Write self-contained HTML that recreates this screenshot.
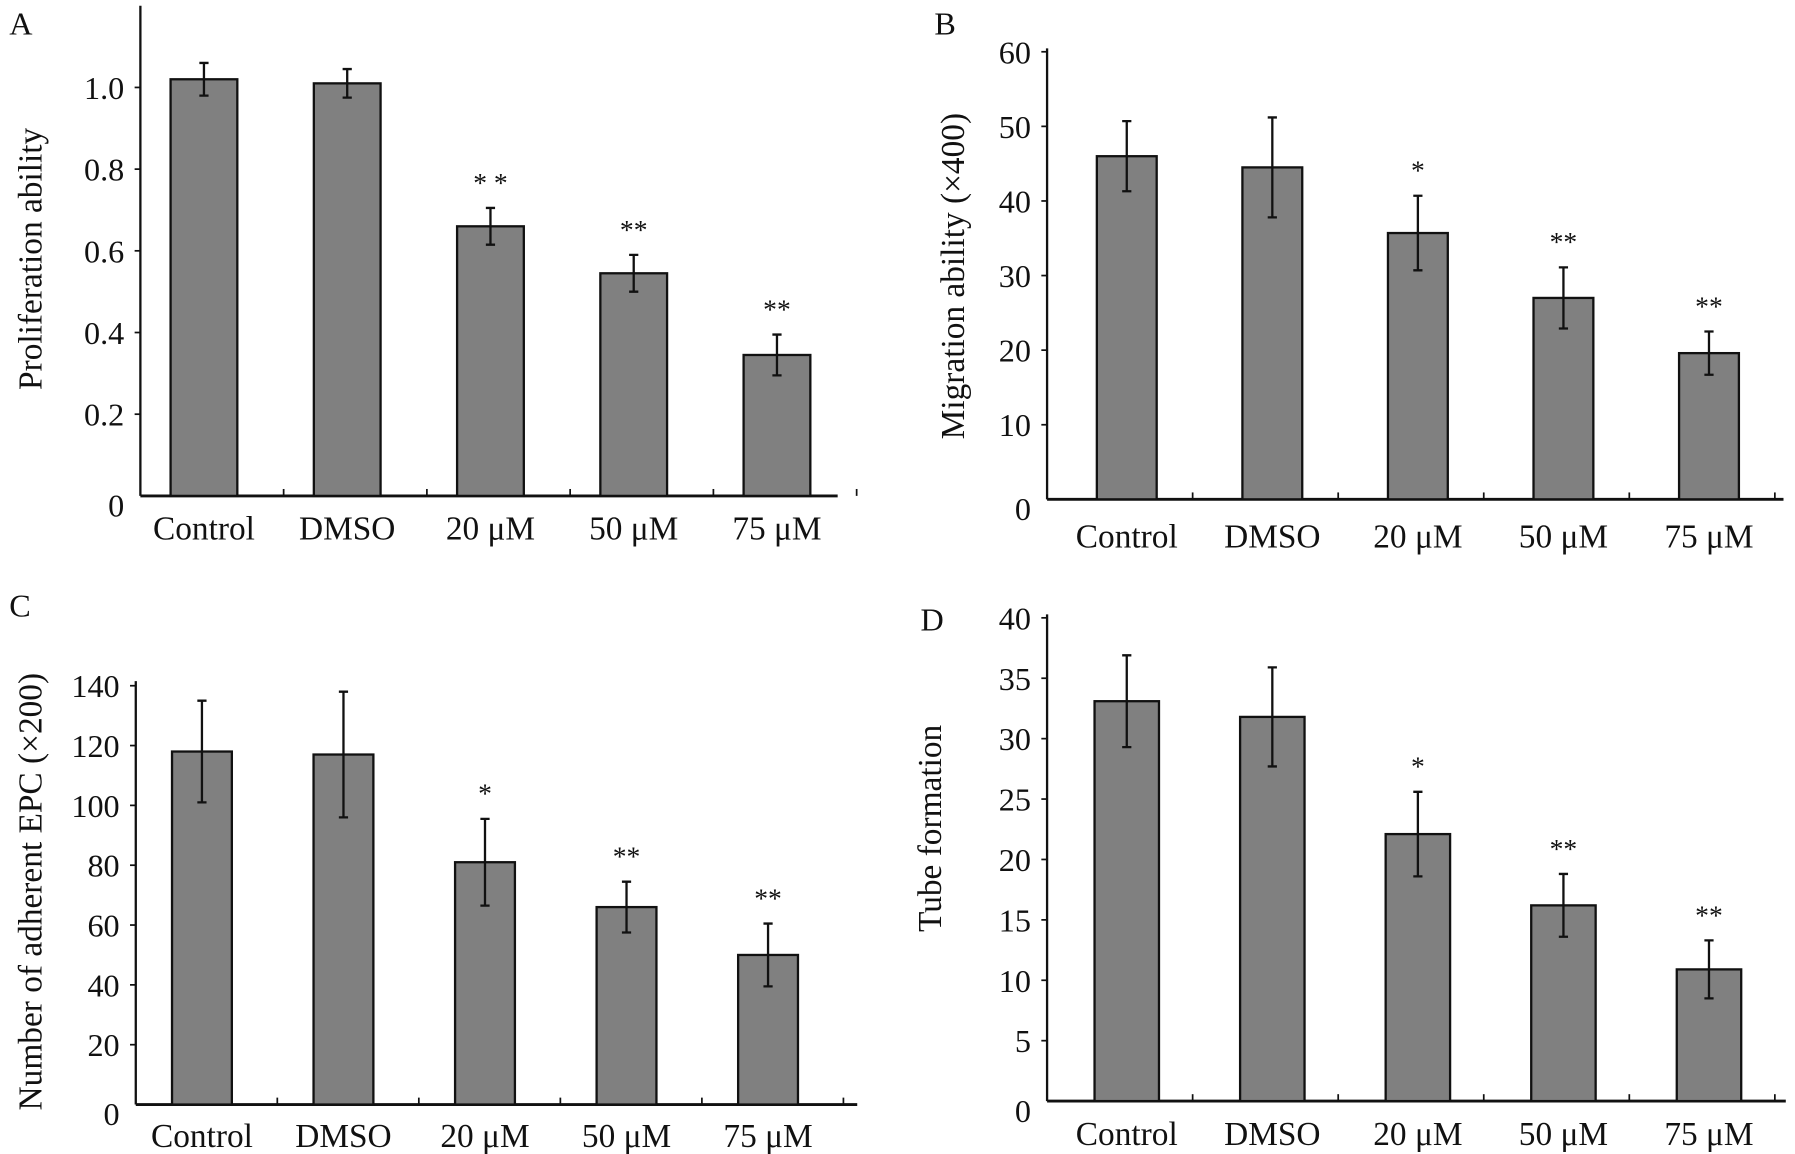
<!DOCTYPE html>
<html><head><meta charset="utf-8">
<style>
html,body{margin:0;padding:0;background:#fff;}
svg{display:block;}
text{font-family:"Liberation Serif",serif;fill:#111;}
</style></head>
<body>
<svg id="fig" width="1795" height="1154" viewBox="0 0 1560 1003" preserveAspectRatio="none" xmlns="http://www.w3.org/2000/svg"></svg>
<script>
const categories = ["Control","DMSO","20 μM","50 μM","75 μM"];
const valuesA = [1.02,1.01,0.66,0.545,0.345];
const errorsA = [0.04,0.035,0.045,0.045,0.05];
const starsA = ["","","* *","**","**"];
const ticksA = ["0","0.2","0.4","0.6","0.8","1.0"];
const tickValsA = [0,0.2,0.4,0.6,0.8,1.0];
const valuesB = [46,44.5,35.7,27,19.6];
const errorsB = [4.7,6.7,5,4.1,2.9];
const starsB = ["","","*","**","**"];
const ticksB = ["0","10","20","30","40","50","60"];
const tickValsB = [0,10,20,30,40,50,60];
const valuesC = [118,117,81,66,50];
const errorsC = [17,21,14.5,8.5,10.5];
const starsC = ["","","*","**","**"];
const ticksC = ["0","20","40","60","80","100","120","140"];
const tickValsC = [0,20,40,60,80,100,120,140];
const valuesD = [33.1,31.8,22.1,16.2,10.9];
const errorsD = [3.8,4.1,3.5,2.6,2.4];
const starsD = ["","","*","**","**"];
const ticksD = ["0","5","10","15","20","25","30","35","40"];
const tickValsD = [0,5,10,15,20,25,30,35,40];

const NS = "http://www.w3.org/2000/svg";
const svg = document.getElementById("fig");
function mk(tag, attrs, parent){
  const e = document.createElementNS(NS, tag);
  for (const k in attrs) e.setAttribute(k, attrs[k]);
  (parent||svg).appendChild(e);
  return e;
}

function panel(cfg){
  const g = mk("g", {});
  
  
  const y = v => cfg.y0 - (v - 0) / cfg.max * (cfg.y0 - cfg.yTop);
  const x = i => cfg.x0 + cfg.step * (i + 0.5) + cfg.offset;
  // panel letter
  const L = mk("text", {x: cfg.lx, y: cfg.ly, "font-size": 28}, g);
  L.textContent = cfg.id.toUpperCase();
  
  
  // axes
  const ya = mk("line", {x1: cfg.x0, y1: cfg.axisTop, x2: cfg.x0, y2: cfg.y0, stroke: "#111", "stroke-width": 2}, g);
  
  
  const xa = mk("line", {x1: cfg.x0, y1: cfg.y0, x2: cfg.x1, y2: cfg.y0, stroke: "#111", "stroke-width": 2.5}, g);
  
  
  // y ticks
  cfg.tickVals.forEach((v, i) => {
    const yy = y(v);
    if (v > 0) mk("line", {x1: cfg.x0 - 5, y1: yy, x2: cfg.x0, y2: yy, stroke: "#111", "stroke-width": 1.5}, g);
    const t = mk("text", {x: cfg.x0 - 14, y: v === 0 ? yy + 18 : yy + 10, "font-size": 28, "text-anchor": "end"}, g);
    t.textContent = cfg.ticks[i];
    
    
  });
  // category ticks
  for (let i = 1; i <= categories.length; i++) {
    const xx = cfg.x0 + cfg.step * i;
    mk("line", {x1: xx, y1: cfg.y0 - 6, x2: xx, y2: cfg.y0, stroke: "#111", "stroke-width": 1.5}, g);
  }
  // bars
  cfg.values.forEach((v, i) => {
    const cx = x(i);
    const r = mk("rect", {x: cx - cfg.bw / 2, y: y(v), width: cfg.bw, height: cfg.y0 - y(v), fill: "#808080", stroke: "#111", "stroke-width": 2}, g);
    
    
    const e = cfg.errors[i];
    const eb = mk("path", {d: `M${cx} ${y(v + e)}V${y(v - e)}M${cx - 4} ${y(v + e)}H${cx + 4}M${cx - 4} ${y(v - e)}H${cx + 4}`, stroke: "#111", "stroke-width": 2, fill: "none"}, g);
    
    
    if (cfg.stars[i]) {
      const s = mk("text", {x: cx, y: y(v + e) - 14, "font-size": 24, "text-anchor": "middle"}, g);
      s.textContent = cfg.stars[i];
      
      
    }
    const c = mk("text", {x: cx, y: cfg.y0 + cfg.labOff, "font-size": 29, "text-anchor": "middle"}, g);
    c.textContent = categories[i];
    
    
  });
  const yt = mk("text", {x: 0, y: 0, "font-size": 29, "text-anchor": "middle", transform: `translate(${cfg.tx},${cfg.ty}) rotate(-90)`}, g);
  yt.textContent = cfg.title;
  
  
}

panel({id:"a", values:valuesA, errors:errorsA, stars:starsA, ticks:ticksA, tickVals:tickValsA, max:1.0,
  x0:122, x1:728, y0:431, yTop:76, axisTop:5, step:124.5, offset:-7, bw:58, labOff:38,
  lx:8, ly:30, tx:36, ty:225, title:"Proliferation ability"});
panel({id:"b", values:valuesB, errors:errorsB, stars:starsB, ticks:ticksB, tickVals:tickValsB, max:60,
  x0:910, x1:1550, y0:434, yTop:45, axisTop:42, step:126.5, offset:6, bw:52, labOff:42,
  lx:812, ly:30, tx:838, ty:240, title:"Migration ability (×400)"});
panel({id:"c", values:valuesC, errors:errorsC, stars:starsC, ticks:ticksC, tickVals:tickValsC, max:140,
  x0:118, x1:745, y0:960, yTop:596, axisTop:592, step:123, offset:-4, bw:52, labOff:37,
  lx:8, ly:536, tx:36, ty:775, title:"Number of adherent EPC (×200)"});
panel({id:"d", values:valuesD, errors:errorsD, stars:starsD, ticks:ticksD, tickVals:tickValsD, max:40,
  x0:910, x1:1552, y0:957, yTop:537, axisTop:534, step:126.5, offset:6, bw:56, labOff:38,
  lx:800, ly:548, tx:818, ty:720, title:"Tube formation"});
</script>
</body></html>
